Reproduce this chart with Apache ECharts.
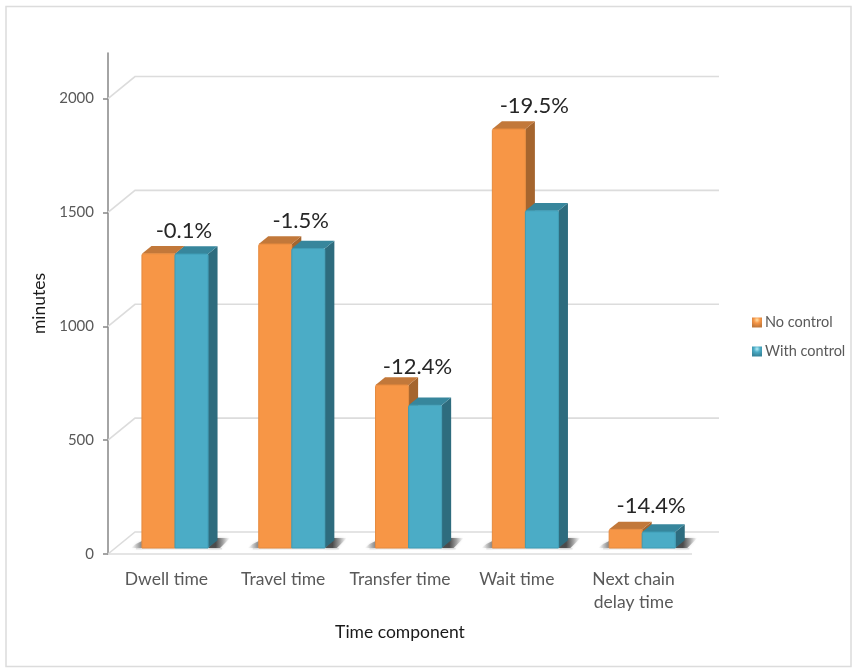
<!DOCTYPE html>
<html>
<head>
<meta charset="utf-8">
<style>html,body{margin:0;padding:0;background:#fff}#chart{width:855px;height:670px}</style>
<script src="https://cdn.jsdelivr.net/npm/echarts@6/dist/echarts.min.js"></script>
</head>
<body>
<div id="chart"></div>
<script>
// Time components, in minutes, with and without control
const categories = ['Dwell time', 'Travel time', 'Transfer time', 'Wait time', 'Next chain\ndelay time'];
const noControl = [1292, 1335, 716, 1840, 82];
const withControl = [1291, 1315, 627, 1481, 70.2];
const changeLabels = ['-0.1%', '-1.5%', '-12.4%', '-19.5%', '-14.4%'];
const tickValues = [0, 500, 1000, 1500, 2000];

// Oblique projection used for the pseudo-3D look
const FONT = 'Lato, "Open Sans", sans-serif';
const WALL = { dx: 27, dy: -22 };      // floor depth, front edge to back wall
const BAR_OFFSET = { dx: 8.6, dy: -6 }; // bar front face relative to the front edge
const BAR_DEPTH = { dx: 9.5, dy: -7.7 };
const BAR_WIDTH_RATIO = 0.283;

const PALETTE = {
  orange: { front: '#F79646', edge: '#E58A3E', top: '#C2783A', side: '#A5652E' },
  teal: { front: '#4BACC6', edge: '#3F9CB5', top: '#37869C', side: '#2E6C7E' }
};

const poly = (points, style) => ({ type: 'polygon', shape: { points }, style, silent: true });

// Legend swatch: bevelled square, lit from the top centre
const swatch = (name, c, light) => ({
  name,
  itemStyle: {
    color: new echarts.graphic.RadialGradient(0.5, 0.25, 0.7, [
      { offset: 0, color: light },
      { offset: 0.45, color: c.front },
      { offset: 1, color: c.top }
    ]),
    borderWidth: 0
  }
});

// Back-wall gridlines with their slanted run to the value axis
function renderGrid(params, api) {
  const cs = params.coordSys;
  const y = api.coord([0, api.value(1)])[1];
  const isFloor = api.value(1) === 0;
  const children = [{
    type: 'polyline',
    shape: { points: [[cs.x, y], [cs.x + WALL.dx, y + WALL.dy], [cs.x + cs.width + WALL.dx, y + WALL.dy]] },
    style: { stroke: '#DCDCDC', lineWidth: 1.6, fill: 'none' },
    silent: true
  }];
  if (isFloor) {
    children.push({
      type: 'line',
      shape: { x1: cs.x, y1: y, x2: cs.x + cs.width, y2: y },
      style: { stroke: '#DCDCDC', lineWidth: 1.6 },
      silent: true
    });
  }
  return { type: 'group', children };
}

// Soft cast shadow at the foot of each bar pair
function renderShadow(params, api) {
  const idx = api.value(0);
  const band = api.size([1, 0])[0];
  const w = band * BAR_WIDTH_RATIO;
  const c = api.coord([idx, 0]);
  const xc = c[0] + BAR_OFFSET.dx;
  const yb = c[1] + BAR_OFFSET.dy;
  const xr = xc + w;
  const xl = xc - w;
  const soft = { shadowBlur: 3, shadowColor: 'rgba(110,110,110,0.55)' };
  const fade = (x0, x1, op) => new echarts.graphic.LinearGradient(x0, 0, x1, 0, [
    { offset: 0, color: 'rgba(55,55,55,' + op + ')' },
    { offset: 0.5, color: 'rgba(95,95,95,' + op * 0.55 + ')' },
    { offset: 1, color: 'rgba(150,150,150,0)' }
  ]);
  return {
    type: 'group',
    children: [
      poly([[xr, yb], [xr + 9, yb - 10], [xr + 22, yb - 10], [xr + 12, yb]], Object.assign({ fill: fade(0.35, 1, 0.85) }, soft)),
      poly([[xl - 11, yb], [xl, yb], [xl, yb - 7], [xl - 6, yb - 4]], Object.assign({ fill: fade(1, 0, 0.55) }, soft)),
      {
        type: 'rect',
        shape: { x: xl - 6, y: yb, width: 2 * w + 20, height: 2.5 },
        style: {
          fill: new echarts.graphic.LinearGradient(0, 0, 0, 1, [
            { offset: 0, color: 'rgba(150,150,150,0.3)' },
            { offset: 1, color: 'rgba(150,150,150,0)' }
          ])
        },
        silent: true
      }
    ]
  };
}

// One prism: front face, roof and right side, projected from value and category
function prismRenderer(colors, side) {
  return function (params, api) {
    const idx = api.value(0);
    const band = api.size([1, 0])[0];
    const w = band * BAR_WIDTH_RATIO;
    const base = api.coord([idx, 0]);
    const top = api.coord([idx, api.value(1)]);
    const x0 = base[0] + BAR_OFFSET.dx + (side < 0 ? -w : 0);
    const x1 = x0 + w;
    const yb = base[1] + BAR_OFFSET.dy;
    const yt = top[1] + BAR_OFFSET.dy;
    const d = BAR_DEPTH;
    return {
      type: 'group',
      children: [
        poly([[x1, yt], [x1 + d.dx, yt + d.dy], [x1 + d.dx, yb + d.dy], [x1, yb]], { fill: colors.side }),
        poly([[x0, yt], [x0 + d.dx, yt + d.dy], [x1 + d.dx, yt + d.dy], [x1, yt]], { fill: colors.top }),
        {
          type: 'rect',
          shape: { x: x0, y: yt, width: w, height: yb - yt, r: [1.5, 1.5, 0, 0] },
          style: { fill: colors.front, stroke: colors.edge, lineWidth: 1 },
          silent: true
        }
      ]
    };
  };
}

// Percentage change printed above each pair
function renderChange(params, api) {
  const idx = api.value(0);
  const p = api.coord([idx, Math.max(noControl[idx], withControl[idx])]);
  const lift = idx === 2 ? 18 : 23;
  return {
    type: 'text',
    x: p[0] + 17.5,
    y: p[1] + BAR_OFFSET.dy - lift,
    silent: true,
    style: {
      text: changeLabels[idx],
      fill: '#262626',
      font: '22px ' + FONT,
      align: 'center',
      verticalAlign: 'middle'
    }
  };
}

const chart = echarts.init(document.getElementById('chart'));
chart.setOption({
  animation: false,
  backgroundColor: '#fff',
  grid: { left: 108, right: 163, top: 53, bottom: 116 },
  legend: {
    orient: 'vertical',
    left: 747,
    top: 310,
    itemWidth: 10,
    itemHeight: 10,
    itemGap: 14,
    icon: 'rect',
    data: [swatch('No control', PALETTE.orange, '#FFE0A8'), swatch('With control', PALETTE.teal, '#B8EEF8')],
    textStyle: { color: '#595959', fontSize: 14.5, fontFamily: FONT, padding: [0, 0, 0, -2] },
    selectedMode: false
  },
  xAxis: {
    type: 'category',
    data: categories,
    name: 'Time component',
    nameLocation: 'middle',
    nameGap: 69,
    nameTextStyle: { color: '#1a1a1a', fontSize: 17.5, fontFamily: FONT },
    axisLine: { show: false },
    axisTick: { show: false },
    axisLabel: { color: '#595959', fontSize: 17.5, fontFamily: FONT, lineHeight: 23, margin: 14, interval: 0 }
  },
  yAxis: {
    type: 'value',
    min: 0,
    max: 2200,
    name: 'minutes',
    nameLocation: 'middle',
    nameGap: 57,
    nameTextStyle: { color: '#1a1a1a', fontSize: 17.5, fontFamily: FONT },
    splitLine: { show: false },
    axisLine: { show: true, lineStyle: { color: '#868686', width: 1.5 } },
    axisTick: { show: true, length: 5, customValues: tickValues, lineStyle: { color: '#868686', width: 1.5 } },
    axisLabel: {
      color: '#595959', fontSize: 15, fontFamily: FONT, margin: 14, customValues: tickValues,
      formatter: v => String(v)
    }
  },
  graphic: [{
    type: 'rect',
    silent: true,
    z: -1,
    shape: { x: 6, y: 6.5, width: 845, height: 660 },
    style: { fill: 'none', stroke: '#DCDCDC', lineWidth: 1.5 }
  }],
  series: [
    {
      type: 'custom', name: 'walls', silent: true, z: 1, clip: false,
      renderItem: renderGrid,
      data: tickValues.map(v => [0, v])
    },
    {
      type: 'custom', name: 'shadow', silent: true, z: 2, clip: false,
      renderItem: renderShadow,
      data: categories.map((c, i) => [i, 0])
    },
    {
      type: 'custom', name: 'No control', z: 3, clip: false,
      itemStyle: { color: PALETTE.orange.front },
      renderItem: prismRenderer(PALETTE.orange, -1),
      data: noControl.map((v, i) => [i, v])
    },
    {
      type: 'custom', name: 'With control', z: 4, clip: false,
      itemStyle: { color: PALETTE.teal.front },
      renderItem: prismRenderer(PALETTE.teal, 1),
      data: withControl.map((v, i) => [i, v])
    },
    {
      type: 'custom', name: 'change', silent: true, z: 5, clip: false,
      renderItem: renderChange,
      data: categories.map((c, i) => [i, 0])
    }
  ]
});
</script>
</body>
</html>
